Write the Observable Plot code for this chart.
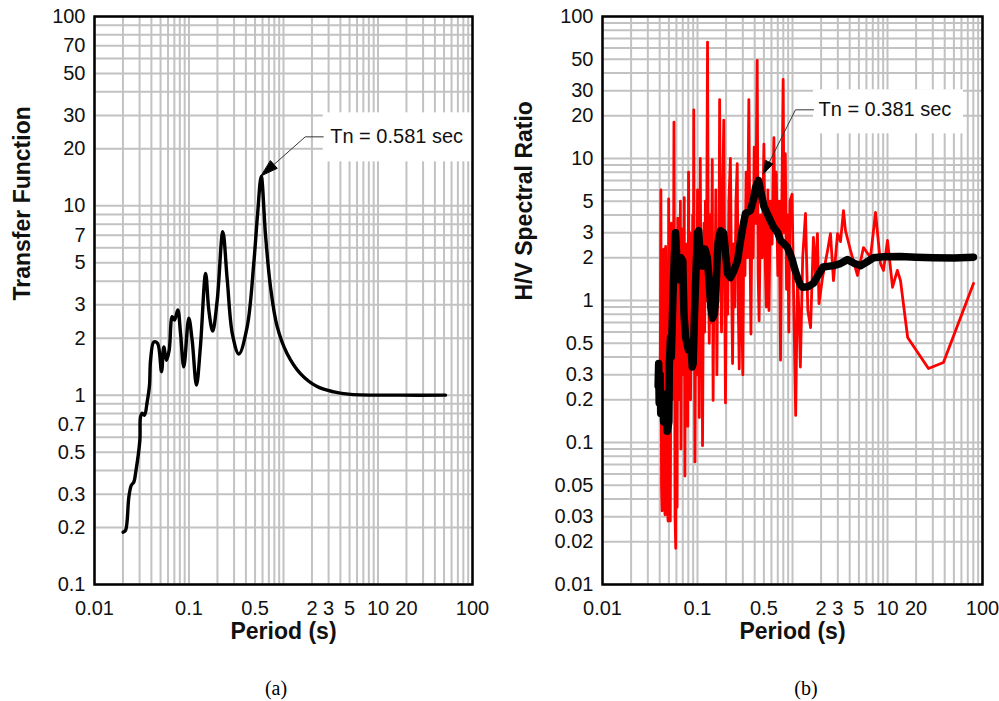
<!DOCTYPE html>
<html><head><meta charset="utf-8">
<script src="https://cdn.jsdelivr.net/npm/d3@7"></script>
<script src="https://cdn.jsdelivr.net/npm/@observablehq/plot@0.6"></script>
<style>
html,body{margin:0;padding:0;background:#fff;}
#wrap{position:relative;width:999px;height:701px;overflow:hidden;background:#fff;}
#pa{position:absolute;left:0;top:0;}
#pb{position:absolute;left:500px;top:0;}
.cap{position:absolute;top:677px;line-height:23px;font-family:"Liberation Serif","Times New Roman",serif;font-size:20px;color:#000;transform:translateX(-50%);}
</style></head><body>
<div id="wrap"><div id="pa"></div><div id="pb"></div>
<div class="cap" style="left:276px">(a)</div><div class="cap" style="left:806px">(b)</div></div>
<script>
// ---------- data ----------
const transferPeriod = [0.0201,0.0213,0.0231,0.0245,0.0261,0.0272,0.0302,0.0307,0.032,0.0338,0.0361,0.0382,0.0392,0.0424,0.0464,0.0512,0.0541,0.0578,0.0617,0.0664,0.0703,0.0761,0.0813,0.0881,0.0995,0.108,0.120,0.132,0.150,0.162,0.178,0.199,0.228,0.254,0.289,0.337,0.413,0.485,0.531,0.581,0.645,0.728,0.858,1.09,1.51,2.27,3.41,5.12,17.3,51.8];
const transferAmp = [0.189,0.193,0.29,0.334,0.348,0.387,0.578,0.768,0.803,0.784,0.922,1.13,1.53,1.91,1.88,1.33,1.80,1.53,1.73,2.60,2.49,2.82,2.13,1.41,2.55,1.95,1.13,1.80,4.40,2.82,2.18,3.18,7.31,4.06,2.08,1.65,2.30,4.99,8.96,14.3,7.03,3.74,2.30,1.66,1.30,1.11,1.04,1.01,1.0,1.0];

const hvRawPeriod = [0.0405,0.0412,0.0418,0.0424,0.0430,0.0436,0.0442,0.0448,0.0455,0.0462,0.0468,0.0475,0.0482,0.0490,0.0497,0.0503,0.0510,0.0517,0.0525,0.0532,0.0540,0.0548,0.0556,0.0565,0.0573,0.0580,0.0590,0.0600,0.0610,0.0620,0.0630,0.0640,0.0650,0.0660,0.0670,0.0680,0.0690,0.0700,0.0712,0.0725,0.0737,0.0750,0.0762,0.0775,0.0790,0.0805,0.0818,0.0830,0.0845,0.0860,0.0875,0.0890,0.0905,0.0914,0.0925,0.0940,0.0955,0.0970,0.0985,0.1000,0.1015,0.1030,0.1045,0.1070,0.1090,0.1110,0.1130,0.1150,0.1170,0.1190,0.1210,0.1240,0.1275,0.1300,0.1330,0.1360,0.1390,0.1430,0.1460,0.1490,0.1520,0.1560,0.1600,0.1640,0.1680,0.1710,0.1750,0.1790,0.1830,0.1890,0.1930,0.1970,0.2020,0.2080,0.2140,0.2220,0.2280,0.2340,0.2400,0.2470,0.2540,0.2620,0.2680,0.2750,0.2830,0.2900,0.3000,0.3080,0.3160,0.3250,0.3350,0.3470,0.3560,0.3650,0.3750,0.3850,0.3950,0.4100,0.4250,0.4350,0.4450,0.4600,0.4800,0.5000,0.5150,0.5300,0.5500,0.5650,0.5850,0.6100,0.6370,0.6550,0.6750,0.7000,0.7250,0.7480,0.7700,0.7970,0.8150,0.8400,0.8650,0.8900,0.9150,0.9400,0.9900,1.03,1.08,1.13,1.18,1.21,1.28,1.37,1.45,1.55,1.66,1.75,1.83,1.90,2.07,2.34,2.51,2.70,2.98,3.20,3.44,3.61,4.08,4.83,5.59,6.62,7.48,8.44,9.08,10.0,11.3,12.7,13.7,16.3,27.0,38.8,80.4];
const hvRawRatio = [0.25,6.0,0.05,0.033,1.2,0.4,2.3,0.04,0.031,2.4,0.6,1.5,0.035,0.028,5.2,0.5,1.8,0.028,0.6,3.5,0.2,2.2,0.3,18.0,0.9,0.03,0.018,1.0,0.035,3.8,0.5,2.0,0.2,5.0,0.09,1.2,0.4,3.2,0.3,5.3,0.058,1.5,0.4,2.5,0.13,8.0,0.6,3.0,0.2,1.5,0.5,4.0,0.9,22.0,1.5,0.073,0.8,3.0,0.3,6.0,0.5,2.0,0.15,10.0,0.7,2.5,0.095,1.0,3.5,0.6,5.0,1.0,66.0,2.0,0.5,4.0,0.7,9.8,0.198,1.5,0.8,6.0,0.3,3.0,1.5,26.0,2.0,0.6,4.0,18.6,1.5,0.19,2.0,0.8,5.0,10.0,1.5,0.36,2.5,0.9,5.0,9.2,1.0,0.33,3.0,1.2,0.3,4.0,1.5,8.0,2.0,26.0,3.0,0.58,5.0,2.0,12.0,3.5,49.0,1.5,0.72,4.0,2.0,12.6,2.0,0.9,6.0,0.85,5.0,2.5,14.0,3.0,8.0,1.5,5.0,0.38,4.0,36.0,3.0,10.8,1.2,4.0,0.6,5.0,5.6,1.0,0.155,1.5,0.7,0.34,2.0,4.1,0.85,0.645,2.78,1.5,2.96,0.95,1.45,2.25,2.96,1.38,2.96,2.6,4.3,3.11,2.25,1.5,2.36,2.01,4.17,1.82,1.63,2.65,1.24,1.63,1.38,0.549,0.332,0.366,1.32];

const hvSmoothPeriod = [0.0385,0.039,0.0395,0.0405,0.041,0.043,0.044,0.046,0.048,0.050,0.0505,0.052,0.053,0.055,0.057,0.0587,0.061,0.064,0.067,0.070,0.072,0.075,0.080,0.085,0.088,0.090,0.093,0.097,0.100,0.103,0.106,0.113,0.12,0.127,0.133,0.138,0.144,0.150,0.155,0.160,0.165,0.175,0.188,0.197,0.207,0.222,0.24,0.264,0.284,0.30,0.32,0.361,0.39,0.408,0.439,0.46,0.50,0.55,0.63,0.70,0.748,0.82,0.886,0.95,1.0,1.06,1.13,1.20,1.27,1.45,1.66,1.85,2.1,2.7,3.2,3.79,4.5,5.2,6.0,7.12,9.0,13.7,20,30.5,50,80.4];
const hvSmoothRatio = [0.25,0.36,0.19,0.30,0.16,0.22,0.14,0.20,0.12,0.14,0.35,0.55,0.40,1.0,2.0,3.0,1.8,1.4,2.0,1.9,0.8,0.55,0.45,0.5,0.34,0.36,0.8,1.8,3.0,3.1,2.2,1.75,2.3,2.0,1.3,0.9,0.75,0.8,1.0,1.8,2.6,3.1,3.0,2.2,1.55,1.45,1.6,1.91,2.65,3.3,4.1,4.3,5.2,6.25,7.0,6.0,4.6,4.0,3.3,3.0,2.65,2.5,2.36,2.1,1.91,1.65,1.45,1.3,1.24,1.25,1.32,1.5,1.72,1.76,1.82,1.94,1.82,1.76,1.86,2.0,2.03,2.04,2.02,2.0,1.99,2.02];

const xTickLabels = [0.01, 0.1, 0.5, 2, 3, 5, 10, 20, 100];
const yTicksA = [0.1, 0.2, 0.3, 0.5, 0.7, 1, 2, 3, 5, 7, 10, 20, 30, 50, 70, 100];
const yTicksB = [0.01, 0.02, 0.03, 0.05, 0.1, 0.2, 0.3, 0.5, 1, 2, 3, 5, 10, 20, 30, 50, 100];

const calloutA = [{x: 0.581, y: 14.4, label: "Tn = 0.581 sec"}];
const calloutB = [{x: 0.495, y: 7.8, label: "Tn = 0.381 sec"}];

// ---------- helpers ----------
const zip = (xs, ys) => xs.map((x, i) => ({period: x, value: ys[i]}));
function logGrid(lo, hi) {
  const out = [];
  for (let e = Math.round(Math.log10(lo)); e < Math.round(Math.log10(hi)); e++)
    for (let k = 1; k <= 9; k++) out.push(k * Math.pow(10, e));
  out.push(hi);
  return out;
}
function leaderShape(kx, ky, run) {
  return {draw(ctx) { ctx.moveTo(0, 0); ctx.lineTo(kx, ky); ctx.lineTo(kx + run, ky); }};
}
function headShape(kx, ky, len, half) {
  return {draw(ctx) {
    const d = Math.hypot(kx, ky), ux = kx / d, uy = ky / d;
    const bx = ux * len, by = uy * len;
    ctx.moveTo(0, 0);
    ctx.lineTo(bx - uy * half, by + ux * half);
    ctx.lineTo(bx + uy * half, by - ux * half);
    ctx.closePath();
  }};
}
const fmt = d => String(d);
const GRID = "#c2c2c2";
const INK = "#111";

function panel({width, marginLeft, marginRight, yDomain, yTicks, yLabel, yLabelDx, lines, callout, co}) {
  return Plot.plot({
    width, height: 660,
    marginLeft, marginRight, marginTop: 16, marginBottom: 76,
    x: {type: "log", domain: [0.01, 100], axis: null},
    y: {type: "log", domain: yDomain, axis: null},
    style: {fontFamily: "'Liberation Sans', Arial, sans-serif", fontSize: "20px", background: "white", color: INK, overflow: "visible"},
    marks: [
      Plot.ruleX(logGrid(0.01, 100), {stroke: GRID, strokeWidth: 2}),
      Plot.ruleY(logGrid(yDomain[0], yDomain[1]), {stroke: GRID, strokeWidth: 2}),
      Plot.rect(callout, {x1: "x", x2: "x", y1: "y", y2: "y", fill: "white",
        insetLeft: co.boxL, insetRight: co.boxR, insetTop: co.boxT, insetBottom: co.boxB}),
      ...lines,
      Plot.vector(callout, {x: "x", y: "y", anchor: "start", rotate: 0, shape: leaderShape(co.kx, co.ky, co.run), stroke: "#333", strokeWidth: 1}),
      Plot.vector(callout, {x: "x", y: "y", anchor: "start", rotate: 0, shape: headShape(co.kx, co.ky, co.head, co.half), stroke: "#000", fill: "#000", strokeWidth: 1}),
      Plot.text(callout, {x: "x", y: "y", text: "label", dx: co.tx, dy: co.ky, textAnchor: "start", fontSize: 20, fill: INK}),
      Plot.frame({stroke: "#000", strokeWidth: 2.5}),
      // tick labels
      Plot.text(xTickLabels, {x: d => d, frameAnchor: "bottom", text: fmt, lineAnchor: "top", dy: 16, fontSize: 20, fill: INK}),
      Plot.text(yTicks, {y: d => d, frameAnchor: "left", text: fmt, textAnchor: "end", dx: -9, fontSize: 20, fill: INK}),
      // axis titles
      Plot.text(["Period (s)"], {frameAnchor: "bottom", dy: 54, fontSize: 23, fontWeight: "bold", fill: INK}),
      Plot.text([yLabel], {frameAnchor: "left", dx: yLabelDx, rotate: -90, fontSize: 23, fontWeight: "bold", fill: INK})
    ]
  });
}

const chartA = panel({
  width: 500, marginLeft: 94, marginRight: 28, yDomain: [0.1, 100], yTicks: yTicksA,
  yLabel: "Transfer Function", yLabelDx: -72, callout: calloutA,
  co: {kx: 44, ky: -39, run: 18, tx: 69, head: 17, half: 5, boxL: 62, boxR: -212, boxT: -63, boxB: 14},
  lines: [
    Plot.line(zip(transferPeriod, transferAmp), {x: "period", y: "value", stroke: "#000", strokeWidth: 3.4, curve: "catmull-rom", strokeLinejoin: "round"})
  ]
});
const chartB = panel({
  width: 499, marginLeft: 102, marginRight: 17, yDomain: [0.01, 100], yTicks: yTicksB,
  yLabel: "H/V Spectral Ratio", yLabelDx: -78, callout: calloutB,
  co: {kx: 32, ky: -64, run: 18, tx: 55, head: 13, half: 4, boxL: 50, boxR: -200, boxT: -84, boxB: 40},
  lines: [
    Plot.line(zip(hvRawPeriod, hvRawRatio), {x: "period", y: "value", stroke: "#ff0000", strokeWidth: 2.8, strokeLinejoin: "round"}),
    Plot.line(zip(hvSmoothPeriod, hvSmoothRatio), {x: "period", y: "value", stroke: "#000", strokeWidth: 7.5, strokeLinejoin: "round", strokeLinecap: "round"})
  ]
});
document.getElementById("pa").appendChild(chartA);
document.getElementById("pb").appendChild(chartB);
</script></body></html>
